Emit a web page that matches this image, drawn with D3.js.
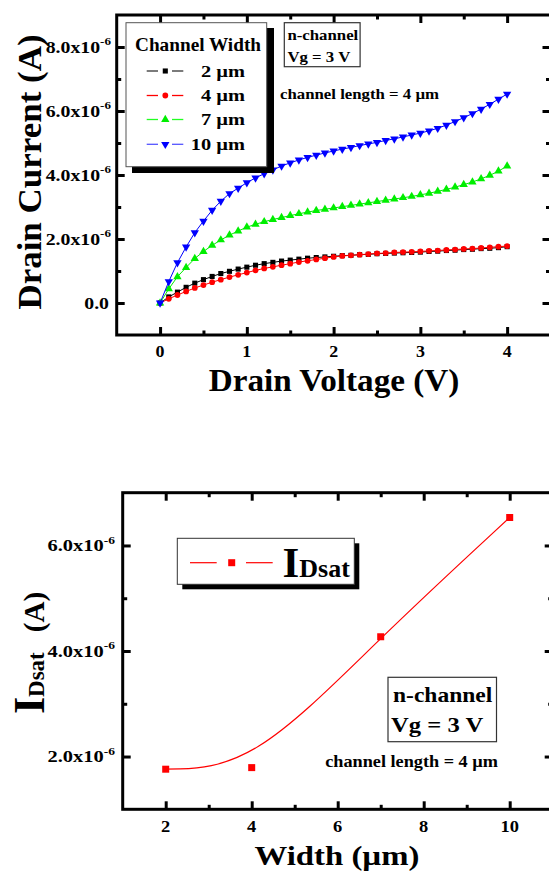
<!DOCTYPE html>
<html><head><meta charset="utf-8">
<script src="https://cdn.jsdelivr.net/npm/d3@7"></script>
<style>
body{margin:0;background:#fff;}
svg{display:block;}
text{font-family:"Liberation Serif","Times New Roman",Times,serif;font-weight:bold;fill:#000;}
</style>
</head><body>
<svg id="c" width="549" height="872"></svg>
<script>
// ---------- DATA ----------
const drainVoltage = [0.0,0.1,0.2,0.3,0.4,0.5,0.6,0.7,0.8,0.9,1.0,1.1,1.2,1.3,1.4,1.5,1.6,1.7,1.8,1.9,2.0,
  2.1,2.2,2.3,2.4,2.5,2.6,2.7,2.8,2.9,3.0,3.1,3.2,3.3,3.4,3.5,3.6,3.7,3.8,3.9,4.0];
// drain current, units of 1e-6 A
const current2um = [0,0.19,0.34,0.49,0.62,0.73,0.83,0.92,0.99,1.06,1.12,1.18,1.23,1.27,1.31,1.34,1.37,1.40,1.42,1.44,1.46,
  1.48,1.49,1.51,1.52,1.54,1.55,1.56,1.57,1.58,1.59,1.61,1.62,1.64,1.65,1.67,1.68,1.70,1.71,1.73,1.76];
const current4um = [0,0.13,0.25,0.36,0.47,0.56,0.65,0.73,0.81,0.88,0.95,1.02,1.08,1.13,1.18,1.23,1.28,1.32,1.36,1.40,1.44,
  1.47,1.49,1.51,1.53,1.55,1.56,1.58,1.59,1.60,1.61,1.63,1.64,1.66,1.67,1.69,1.70,1.72,1.74,1.76,1.78];
const current7um = [0,0.44,0.82,1.11,1.39,1.61,1.80,1.97,2.12,2.25,2.37,2.46,2.54,2.61,2.67,2.73,2.79,2.84,2.89,2.93,2.97,
  3.01,3.05,3.09,3.13,3.17,3.21,3.25,3.29,3.33,3.38,3.43,3.49,3.55,3.62,3.70,3.78,3.88,3.99,4.12,4.28];
const current10um = [0,0.67,1.26,1.75,2.20,2.56,2.90,3.18,3.42,3.59,3.76,3.91,4.04,4.16,4.28,4.38,4.47,4.55,4.62,4.69,4.75,
  4.81,4.86,4.92,4.97,5.02,5.08,5.13,5.19,5.25,5.31,5.38,5.46,5.56,5.67,5.79,5.92,6.06,6.21,6.37,6.53];
const legendLabels = ["2 µm","4 µm","7 µm","10 µm"];
const topXTicks = [0,1,2,3,4];
const topXMinor = [0.5,1.5,2.5,3.5];
const topYTicks = [0,2,4,6,8];
const topYMinor = [1,3,5,7];
const topYLabels = ["0.0","2.0x10","4.0x10","6.0x10","8.0x10"];

const channelWidth = [2,4,7,10];
const idsat = [1.76,1.79,4.27,6.53];
const botXTicks = [2,4,6,8,10];
const botXMinor = [3,5,7,9];
const botYTicks = [2,4,6];
const botYMinor = [3,5];
const botYLabels = ["2.0x10","4.0x10","6.0x10"];

// ---------- HELPERS ----------
const svg = d3.select("#c");
function txt(g, x, y, s, size, anchor, sx, rot){
  return g.append("text")
    .attr("transform", `translate(${x},${y})` + (rot?` rotate(${rot})`:"") + ` scale(${sx||1},1)`)
    .attr("font-size", size).attr("text-anchor", anchor||"start").text(s);
}
function frameAndTicks(g, x, y, xMaj, xMin, yMaj, yMin){
  const [x0,x1] = x.range(), [y0,y1] = y.range();
  const mk = (axis, tr, size, vals) => {
    const a = g.append("g").attr("transform", tr)
      .call(axis.tickValues(vals).tickSize(size).tickFormat(""));
    a.select(".domain").remove();
    a.selectAll("line").attr("stroke","#000").attr("stroke-width",3);
  };
  mk(d3.axisBottom(x), `translate(0,${y0})`, -8, xMaj);
  mk(d3.axisBottom(x), `translate(0,${y0})`, -4.5, xMin);
  mk(d3.axisTop(x), `translate(0,${y1})`, -8, xMaj);
  mk(d3.axisTop(x), `translate(0,${y1})`, -4.5, xMin);
  mk(d3.axisLeft(y), `translate(${x0},0)`, -8, yMaj);
  mk(d3.axisLeft(y), `translate(${x0},0)`, -4.5, yMin);
  mk(d3.axisRight(y), `translate(${x1},0)`, -8, yMaj);
  mk(d3.axisRight(y), `translate(${x1},0)`, -4.5, yMin);
  g.append("rect").attr("x",x0).attr("y",y1).attr("width",x1-x0).attr("height",y0-y1)
    .attr("fill","none").attr("stroke","#000").attr("stroke-width",3);
}
function yLabel(g, x, y, main, sup, size, sx){
  const t = g.append("text").attr("transform",`translate(${x},${y}) scale(${sx},1)`)
    .attr("font-size",size).attr("text-anchor","end");
  t.append("tspan").text(main);
  if(sup) t.append("tspan").attr("font-size",size*0.66).attr("dy",-size*0.45).text(sup);
}

// ---------- TOP CHART ----------
const gt = svg.append("g");
const xT = d3.scaleLinear().domain([-0.5,4.5]).range([116.7,550.5]);
const yT = d3.scaleLinear().domain([-1,9]).range([335,15]);

const series = [
  {vals: current2um, color:"#000000", sym:d3.symbolSquare, size:26, rot:0, leg:"#333"},
  {vals: current4um, color:"#ff0000", sym:d3.symbolCircle, size:26, rot:0, leg:"#ff0000"},
  {vals: current7um, color:"#00ee00", sym:d3.symbolTriangle, size:30, rot:0, leg:"#22ff22"},
  {vals: current10um, color:"#0000ff", sym:d3.symbolTriangle, size:30, rot:180, leg:"#5555ff"}
];
const line = d3.line().x((d,i)=>xT(drainVoltage[i])).y(d=>yT(d));
series.forEach(s=>{
  gt.append("path").attr("d", line(s.vals)).attr("fill","none").attr("stroke",s.color).attr("stroke-width",1);
  gt.selectAll(null).data(s.vals).enter().append("path")
    .attr("d", d3.symbol().type(s.sym).size(s.size))
    .attr("transform",(d,i)=>`translate(${xT(drainVoltage[i])},${yT(d)}) rotate(${s.rot})`)
    .attr("fill",s.color);
});
frameAndTicks(gt, xT, yT, topXTicks, topXMinor, topYTicks, topYMinor);
topYTicks.forEach((v,i)=>yLabel(gt, i===0?109:111, yT(v)+5.5, topYLabels[i], i===0?null:"-6", 16.5, 1.2));
topXTicks.forEach(v=>txt(gt, xT(v), 357, String(v), 16, "middle", 1.12));
txt(gt, 334, 391, "Drain Voltage (V)", 31, "middle", 1.07);
txt(gt, 41, 172, "Drain Current (A)", 33, "middle", 1.06, -90);

// legend
const lg = gt.append("g");
lg.append("rect").attr("x",132).attr("y",28).attr("width",142).attr("height",145).attr("fill","#000");
lg.append("rect").attr("x",126).attr("y",22.7).attr("width",140.7).attr("height",144).attr("fill","#fff").attr("stroke","#555").attr("stroke-width",1);
txt(lg, 135, 51, "Channel Width", 18, "start", 1.07);
const legY = [71,95.5,119.5,144.3];
series.forEach((s,i)=>{
  const yy = legY[i];
  lg.append("line").attr("x1",146.7).attr("x2",158).attr("y1",yy).attr("y2",yy).attr("stroke",s.leg).attr("stroke-width",1.3);
  lg.append("line").attr("x1",172).attr("x2",183.3).attr("y1",yy).attr("y2",yy).attr("stroke",s.leg).attr("stroke-width",1.3);
  lg.append("path").attr("d", d3.symbol().type(s.sym).size(s.size)).attr("transform",`translate(165.3,${yy}) rotate(${s.rot})`).attr("fill",s.color);
  txt(lg, 245, yy+5.5, legendLabels[i], 17, "end", 1.2);
});
// n-channel box
gt.append("rect").attr("x",284.3).attr("y",22.7).attr("width",75.8).attr("height",44).attr("fill","#fff").attr("stroke","#333").attr("stroke-width",1.2);
txt(gt, 287.4, 40, "n-channel", 15, "start", 1.12);
txt(gt, 287.4, 61.5, "Vg = 3 V", 15, "start", 1.12);
txt(gt, 280, 99, "channel length = 4 µm", 15, "start", 1.12);

// ---------- BOTTOM CHART ----------
const gb = svg.append("g");
const xB = d3.scaleLinear().domain([1,11]).range([122.7,552.7]);
const yB = d3.scaleLinear().domain([1,7]).range([809.3,492.7]);
const spline = d3.line().curve(d3.curveBasis).x((d,i)=>xB(channelWidth[i])).y(d=>yB(d));
gb.append("path").attr("d", spline(idsat)).attr("fill","none").attr("stroke","#ff0000").attr("stroke-width",1.2);
gb.selectAll(null).data(idsat).enter().append("rect")
  .attr("x",(d,i)=>xB(channelWidth[i])-3.5).attr("y",d=>yB(d)-3.5).attr("width",7).attr("height",7).attr("fill","#ff0000");
frameAndTicks(gb, xB, yB, botXTicks, botXMinor, botYTicks, botYMinor);
botYTicks.forEach((v,i)=>yLabel(gb, 115, yB(v)+5.5, botYLabels[i], "-6", 16.5, 1.24));
botXTicks.forEach(v=>txt(gb, xB(v), 831.5, String(v), 16.5, "middle", 1.12));
txt(gb, 337, 865, "Width (µm)", 28, "middle", 1.17);
// y title
const yt = gb.append("text").attr("transform","translate(44,653) rotate(-90)").attr("text-anchor","middle");
yt.append("tspan").attr("font-size",44).text("I");
yt.append("tspan").attr("font-size",23).text("Dsat");
yt.append("tspan").attr("font-size",29).attr("dx",20).text("(A)");
// legend
gb.append("rect").attr("x",182.3).attr("y",543.3).attr("width",177).attr("height",46).attr("fill","#000");
gb.append("rect").attr("x",177.3).attr("y",538.3).attr("width",177).attr("height",46).attr("fill","#fff").attr("stroke","#333").attr("stroke-width",1);
gb.append("line").attr("x1",190).attr("x2",216.7).attr("y1",562.7).attr("y2",562.7).attr("stroke","#ff0000").attr("stroke-width",1.2);
gb.append("line").attr("x1",246).attr("x2",272.7).attr("y1",562.7).attr("y2",562.7).attr("stroke","#ff0000").attr("stroke-width",1.2);
gb.append("rect").attr("x",228.2).attr("y",559.2).attr("width",7).attr("height",7).attr("fill","#ff0000");
const lt = gb.append("text").attr("transform","translate(282.5,576.7)");
lt.append("tspan").attr("font-size",43).text("I");
lt.append("tspan").attr("font-size",26).text("Dsat");
// n-channel box
gb.append("rect").attr("x",388).attr("y",677.3).attr("width",108.5).attr("height",64.4).attr("fill","#fff").attr("stroke","#333").attr("stroke-width",1.2);
txt(gb, 393, 701.7, "n-channel", 22, "start", 1.07);
txt(gb, 391, 731.7, "Vg = 3 V", 22, "start", 1.12);
txt(gb, 325.2, 767.3, "channel length = 4 µm", 16, "start", 1.14);
</script>
</body></html>
